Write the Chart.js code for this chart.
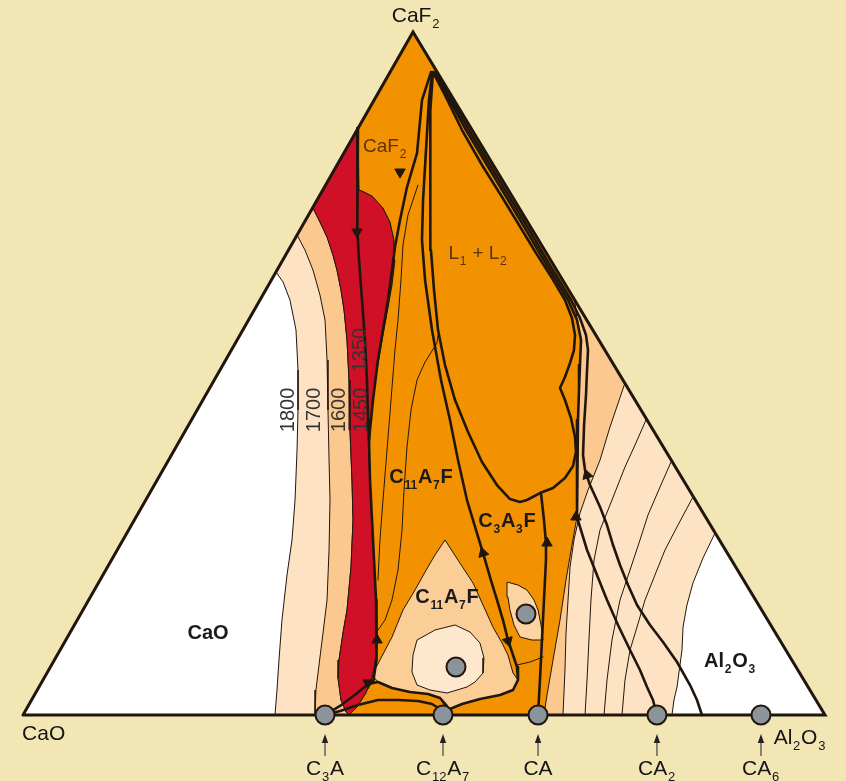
<!DOCTYPE html>
<html>
<head>
<meta charset="utf-8">
<script src="https://cdn.jsdelivr.net/npm/chart.js@4.4.0/dist/chart.umd.min.js"></script>
<style>
html, body { margin: 0; padding: 0; background: #f2e6b5; }
canvas { display: block; }
</style>
</head>
<body>
<canvas id="diagram" width="846" height="781"></canvas>
<script>
// Diagram coordinates: x runs along the CaO–Al2O3 base (0 … 100),
// y is the CaF2 content (0 on the base, 100 at the CaF2 corner).
const corners = [[0, 0], [100, 0], [48.63, 100]];

// Compounds on the CaO–Al2O3 join
const compoundNames = ['C3A', 'C12A7', 'CA', 'CA2', 'CA6'];
const compoundX = [37.66, 52.37, 64.22, 79.05, 92.02];
// Interior invariant compositions
const interiorPoints = [[53.99, 7.03], [62.72, 14.79]];

// Isotherms on the CaO side
const iso1800 = [[31.55,64.86],[32.42,63.4],[33.29,60.76],[34.04,56.37],[34.29,50.51],[34.29,44.66],[34.17,38.8],[33.92,31.48],[33.54,25.62],[32.92,20.5],[32.29,13.91],[31.92,8.05],[31.67,3.66],[31.42,0]];
const iso1700 = [[34.17,70.28],[35.16,68.08],[36.16,65.15],[37.03,61.49],[37.66,57.83],[37.91,51.98],[38.03,44.66],[38.16,37.33],[38.28,31.48],[38.16,24.16],[37.91,16.84],[37.41,12.01],[36.91,7.32],[36.53,3.66],[36.41,0]];
const iso1600 = [[36.16,74.23],[37.03,72.18],[37.91,69.98],[38.65,67.35],[39.15,65.15],[39.65,62.22],[40.03,59.3],[40.4,54.9],[40.65,49.05],[40.77,41.73],[41.02,34.41],[41.15,28.55],[40.9,21.67],[40.4,15.37],[39.9,12.01],[39.4,8.05],[39.28,5.42],[39.65,2.2],[40.28,0.44],[40.65,0]];
const redRight = [[41.65,1.17],[42.77,3.22],[43.64,5.86],[44.14,9.52],[44.14,13.91],[43.89,19.77],[43.64,25.62],[43.39,31.48],[43.14,37.33],[43.27,41.73],[43.64,46.12],[44.14,50.51],[44.76,54.9],[45.39,58.86],[46.01,62.96],[46.38,66.62],[46.26,69.54],[45.76,72.18],[44.89,74.23],[43.52,75.99],[42.27,76.72],[41.9,76.87]];
const caf2Top = [41.77, 85.94];

// Univariant boundaries
const bndCaF2 = [[41.77,85.94],[41.77,81.26],[41.65,75.4],[41.65,71.01],[41.9,66.62],[42.27,60.76],[42.64,54.9],[42.89,49.05],[43.02,43.19],[43.14,40.26],[43.27,34.41],[43.52,28.55],[43.77,22.69],[44.02,16.84],[44.14,10.98],[44.02,8.05],[43.64,4.69]];
const bndT1 = [[50.87,94.14],[49.75,90.04],[49.13,82.28],[47.88,77.3],[47.01,72.47],[46.38,68.52],[46.01,65.15],[45.51,60.76],[44.89,56.37],[44.26,51.98],[43.64,46.12],[43.14,40.26]];
const bndC3A3F = [[51.0,94.0],[50.62,90.04],[50.25,82.72],[49.88,75.4],[49.75,69.54],[50.13,63.69],[51.0,56.37],[52.12,49.05],[53.24,43.19],[54.24,37.33],[55.36,31.48],[56.48,27.09],[57.36,23.72],[58.23,20.2],[59.1,16.84],[59.85,13.91],[60.47,10.98],[61.1,8.78],[61.6,7.03],[61.72,5.12],[61.1,3.66],[59.48,2.93],[56.98,2.34],[54.74,1.61],[53.24,0.88],[52.37,0]];
const gapL1L2 = [[51.12,94.14],[52.62,90.77],[54.74,85.65],[57.23,80.53],[59.73,75.84],[61.85,71.74],[63.97,67.64],[65.96,63.98],[67.58,60.76],[68.45,58.12],[68.83,55.64],[68.7,53.44],[68.21,51.54],[67.58,49.49],[66.96,47.88],[67.58,46.12],[68.33,43.48],[68.83,40.7],[68.95,38.51],[68.58,36.46],[67.58,34.7],[66.09,33.24],[64.46,32.5],[62.84,31.48],[61.97,31.19],[60.72,31.62],[59.1,33.67],[57.23,37.04],[55.49,41.43],[53.87,46.12],[52.62,51.24],[51.75,56.37],[51.25,62.22],[50.87,68.08],[50.75,75.4],[50.75,82.72],[50.87,88.58]];
const bndR1 = [[51.37,94.14],[52.87,90.77],[55.24,85.65],[57.86,80.53],[60.35,75.69],[62.59,71.3],[64.71,67.06],[66.46,63.69],[67.96,60.76],[69.08,57.83],[69.58,54.9],[69.45,51.24],[69.33,47.58],[69.2,43.19],[69.08,38.8],[69.08,34.41],[69.08,28.99],[70.33,24.16],[71.57,20.5],[72.82,16.84],[74.19,13.18],[75.69,9.52],[76.93,6.59],[77.81,4.1],[78.55,2.2],[79.05,0]];
const bndR2 = [[51.5,94.14],[53.12,90.77],[55.61,85.65],[58.23,80.53],[60.72,75.69],[62.97,71.3],[65.09,67.06],[66.83,63.69],[68.33,60.76],[69.45,58.12],[70.2,55.64],[70.45,53.44],[70.33,50.51],[70.2,46.85],[69.96,42.46],[69.83,38.07],[70.08,35.87],[70.7,33.67],[71.95,30.45],[72.82,27.82],[73.57,24.89],[74.44,21.96],[75.44,19.03],[76.56,16.11],[78.18,13.18],[79.8,10.69],[81.55,7.76],[83.17,4.39],[84.04,2.2],[84.66,0]];
const bndCA = [[64.22,0],[64.46,5.12],[64.71,10.98],[64.96,16.84],[65.21,22.69],[65.21,25.18],[64.96,28.55],[64.59,32.5]];
const bndB1 = [[37.66,0],[39.53,1.32],[41.52,3.07],[43.02,4.54],[44.26,4.83],[46.01,3.95],[48.26,3.37],[50.5,3.07],[52.0,2.49],[52.87,1.32],[52.37,0]];
const bndB2 = [[37.66,0],[39.53,0.59],[41.77,1.46],[44.26,2.2],[46.76,2.2],[49.25,2.05],[51.0,1.61],[52.0,0.88],[52.37,0]];

// Liquidus contours on the Al2O3 side
const edgeAt300 = [68.79, 60.76];
const isoRightA = [[75.06,48.61],[73.19,42.17],[71.95,37.33],[70.45,32.94],[69.45,29.57],[68.7,25.62],[68.21,21.67],[67.96,16.84],[67.71,12.01],[67.58,6.59],[67.33,0]];
const isoRightB = [[77.68,43.19],[76.31,39.53],[75.06,36.31],[73.44,31.48],[71.95,27.09],[71.2,22.69],[70.82,16.84],[70.57,10.98],[70.33,5.12],[70.08,0]];
const isoRightC = [[80.8,37.04],[79.43,33.38],[77.93,29.28],[76.93,25.62],[75.69,21.23],[74.44,16.84],[73.44,10.98],[72.82,5.12],[72.45,0]];
const isoRightD = [[83.54,31.92],[81.67,27.82],[80.05,24.16],[78.8,20.5],[77.56,16.84],[76.56,12.88],[75.69,9.52],[75.06,5.12],[74.69,0]];
const orangeEdgeR = [[68.45,24.89],[67.71,19.77],[66.96,13.91],[66.09,8.05],[65.34,2.93],[64.96,0]];
const alumina = [[86.29,26.65],[100,0],[80.92,0],[81.17,2.2],[81.55,4.1],[81.92,7.32],[82.17,9.52],[82.3,12.88],[82.79,16.11],[83.54,19.33],[84.79,22.99]];

// C11A7F field and its contours
const fieldC11A7F = [[52.62,25.62],[54.24,22.69],[56.11,19.33],[57.36,16.11],[58.6,12.88],[59.73,10.54],[60.47,8.78],[61.1,6.15],[61.72,5.12],[61.1,3.66],[59.48,2.93],[56.98,2.34],[54.74,1.61],[53.24,0.88],[52.62,1.17],[52.0,2.49],[50.5,3.07],[48.26,3.37],[46.01,3.95],[44.26,4.83],[43.52,5.86],[44.51,8.05],[46.01,11.42],[47.38,15.37],[48.88,18.3],[50.13,20.94],[51.37,23.43]];
const coreC11A7F = [[49.13,10.98],[51.37,12.44],[53.87,13.18],[55.74,12.15],[56.98,10.54],[57.48,8.35],[57.36,6.15],[56.36,4.83],[55.36,4.1],[52.87,3.22],[50.75,3.66],[49.13,4.39],[48.5,6.3],[48.63,8.78]];
const lensC3A3F = [[60.35,19.47],[61.72,19.03],[62.84,18.3],[63.72,16.84],[64.22,15.37],[64.59,13.18],[64.84,10.98],[63.47,10.98],[61.97,11.42],[61.22,13.18],[60.72,15.37],[60.47,17.28]];
const lensBase = [[61.6,7.32],[63.22,7.76],[64.84,8.49]];
const thinInner1 = [[51.75,55.64],[51.62,54.47],[50.13,51.68],[49.13,49.05],[48.38,44.66],[47.88,39.24],[47.51,32.94],[47.26,27.09],[46.76,21.23],[46.01,16.84],[45.14,13.91],[44.26,12.44]];
const thinInner2 = [[49.25,77.59],[48.0,73.21],[47.38,68.81],[47.13,63.69],[46.76,57.83],[46.38,53.44],[45.89,46.12],[45.39,38.8],[44.89,31.48],[44.51,25.62],[44.26,19.77]];

// Crystallisation direction arrows along the boundaries
const flowArrows = [[41.65,70.72],[47.01,79.5],[44.14,10.98],[43.02,4.69],[57.36,23.72],[60.47,10.83],[65.34,25.18],[68.95,28.99],[70.33,35.14]];
const flowAngles = [180, 180, 0, 61, -17, 164, 0, 0, -18];

// Isotherm labels (°C)
const isoLabels = ['1800', '1700', '1600', '1450', '1350'];
const isoLabelAt = [[32.92,44.66],[36.28,44.66],[39.28,44.66],[42.02,44.66],[41.9,53.44]];

// Field labels
const fieldLabels = [
  { text: 'CaO',    at: [23.07, 11.13], bold: true },
  { text: 'Al2O3',  at: [88.16, 7.03],  bold: true },
  { text: 'C11A7F', at: [49.63, 33.97], bold: true },
  { text: 'C3A3F',  at: [60.35, 27.53], bold: true },
  { text: 'C11A7F', at: [52.87, 16.4],  bold: true },
  { text: 'L1 + L2', at: [56.73, 66.76], bold: false, brown: true },
  { text: 'CaF2',   at: [45.14, 82.43], bold: false, brown: true }
];

const INK = '#21160d';
const C_WHITE = '#ffffff', C_LIGHT = '#fde3c3', C_MED = '#fbc98f', C_RED = '#cf1027',
      C_ORANGE = '#f39200', C_PEACH = '#fbcd97', C_CORE = '#fde7cd', C_LENS = '#fcd3a2', C_GRAY = '#8b949a';

const layers = [];
const P = a => a.map(([x, y]) => ({ x, y }));
function add(ds) { ds.order = 1000 - layers.length; layers.push(ds); }
function area(pts, color, edged) {
  add({ data: P([...pts, pts[0]]), showLine: true, fill: 'shape', backgroundColor: color,
        borderColor: edged ? INK : 'rgba(0,0,0,0)', borderWidth: edged ? 1 : 0,
        pointRadius: 0, tension: 0 });
}
function stroke(pts, width, closed, join) {
  add({ data: P(closed ? [...pts, pts[0]] : pts), showLine: true, fill: false,
        borderColor: INK, borderWidth: width, pointRadius: 0, tension: 0,
        borderJoinStyle: join || 'round', borderCapStyle: 'round' });
}

// fields, painted back to front
area(corners, C_WHITE, false);
area([...iso1800, [100, 0], corners[2]], C_LIGHT, true);
area([...iso1700, ...iso1600.slice().reverse()], C_MED, true);
area([bndR2[8], edgeAt300, ...isoRightA, [64.46, 0], [65.09, 31.48], [67.0, 45.0]], C_MED, false);
area([caf2Top, ...iso1600, ...redRight], C_RED, true);
area([iso1600[iso1600.length - 1], ...redRight, caf2Top, corners[2], edgeAt300, ...bndR1.slice(9, 17), ...orangeEdgeR], C_ORANGE, true);
area(alumina, C_WHITE, true);
area(fieldC11A7F, C_PEACH, true);
area(coreC11A7F, C_CORE, true);
area(lensC3A3F, C_LENS, true);

// thin contour lines
[isoRightA, isoRightB, isoRightC, isoRightD, thinInner1, thinInner2, lensBase].forEach(l => stroke(l, 1));

// phase boundaries
[bndCaF2, bndT1, bndC3A3F, bndR1, bndR2, bndCA, bndB1, bndB2].forEach(l => stroke(l, 2.6));
stroke(gapL1L2, 2.6, true);
stroke(corners, 3, true, 'miter');

// direction arrows
add({ data: P(flowArrows), showLine: false, pointStyle: 'triangle', pointRadius: 6,
      pointRotation: flowAngles, backgroundColor: INK, borderColor: INK, borderWidth: 1 });
// composition points
add({ data: P([...compoundX.map(x => [x, 0]), ...interiorPoints]), showLine: false,
      pointStyle: 'circle', pointRadius: 9.5, backgroundColor: C_GRAY, borderColor: INK, borderWidth: 2 });

const FONT = '"Liberation Sans", Arial, Helvetica, sans-serif';
function formula(ctx, text, px, py, size, weight, color, align) {
  const parts = [];
  for (const ch of text) {
    const sub = /[0-9]/.test(ch);
    if (parts.length && parts[parts.length - 1].sub === sub) parts[parts.length - 1].t += ch;
    else parts.push({ t: ch, sub });
  }
  const subSize = Math.round(size * 0.62);
  const font = s => `${weight} ${s}px ${FONT}`;
  let w = 0;
  parts.forEach(p => { ctx.font = font(p.sub ? subSize : size); p.w = ctx.measureText(p.t).width + (p.sub ? 1.5 : 0); w += p.w; });
  let cx = align === 'center' ? px - w / 2 : align === 'right' ? px - w : px;
  ctx.fillStyle = color; ctx.textAlign = 'left'; ctx.textBaseline = 'alphabetic';
  parts.forEach(p => {
    ctx.font = font(p.sub ? subSize : size);
    ctx.fillText(p.t, cx + (p.sub ? 0.75 : 0), py + (p.sub ? size * 0.3 : 0));
    cx += p.w;
  });
}

const annotations = {
  id: 'annotations',
  afterDatasetsDraw(chart) {
    const { ctx, scales: { x, y } } = chart;
    const X = v => x.getPixelForValue(v), Y = v => y.getPixelForValue(v);
    ctx.save();
    // corner names
    formula(ctx, 'CaF2', X(49.0), Y(101.46), 21, 'normal', '#151515', 'center');
    formula(ctx, 'CaO', X(-0.12), Y(-3.66), 21, 'normal', '#151515', 'left');
    formula(ctx, 'Al2O3', X(93.6), Y(-4.25), 21, 'normal', '#151515', 'left');
    // compound names with pointers
    compoundNames.forEach((n, i) => {
      const px = X(compoundX[i]);
      ctx.strokeStyle = '#222'; ctx.lineWidth = 1;
      ctx.beginPath(); ctx.moveTo(px, Y(-3.95)); ctx.lineTo(px, Y(-6.0)); ctx.stroke();
      ctx.fillStyle = '#222';
      ctx.beginPath(); ctx.moveTo(px, Y(-2.78)); ctx.lineTo(px - 3.2, Y(-4.1)); ctx.lineTo(px + 3.2, Y(-4.1)); ctx.closePath(); ctx.fill();
      formula(ctx, n, px, Y(-8.78), 21, 'normal', '#151515', 'center');
    });
    // field names
    fieldLabels.forEach(f => {
      formula(ctx, f.text, X(f.at[0]), Y(f.at[1]), f.bold ? 20 : 19, f.bold ? 'bold' : 'normal',
              f.brown ? '#5a3312' : '#1a1a1a', 'center');
    });
    // isotherm temperatures, written upward
    ctx.font = `normal 20px ${FONT}`;
    ctx.fillStyle = '#343434'; ctx.textAlign = 'center'; ctx.textBaseline = 'middle';
    isoLabels.forEach((t, i) => {
      ctx.save();
      ctx.translate(X(isoLabelAt[i][0]), Y(isoLabelAt[i][1]));
      ctx.rotate(-Math.PI / 2);
      ctx.fillText(t, 0, 1);
      ctx.restore();
    });
    ctx.restore();
  }
};

new Chart(document.getElementById('diagram'), {
  type: 'scatter',
  data: { datasets: layers },
  options: {
    responsive: false,
    animation: false,
    devicePixelRatio: 1,
    events: [],
    layout: { padding: 0, autoPadding: false },
    plugins: { legend: { display: false }, tooltip: { enabled: false } },
    scales: {
      x: { type: 'linear', min: -2.868, max: 102.62, bounds: 'data', display: false },
      y: { type: 'linear', min: -9.663, max: 104.69, bounds: 'data', display: false }
    }
  },
  plugins: [annotations]
});
</script>
</body>
</html>
